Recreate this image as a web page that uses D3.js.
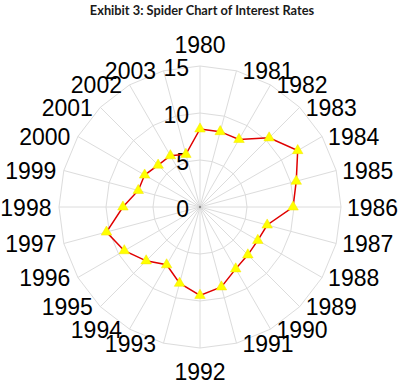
<!DOCTYPE html>
<html>
<head>
<meta charset="utf-8">
<script src="https://cdn.jsdelivr.net/npm/d3@7"></script>
<style>
    body { margin: 0; background: #ffffff; }
    #Spider text { font-family: "Liberation Sans", Arial, sans-serif; fill: #000000; }
    #Spider .title { font-family: Lato, "Open Sans", sans-serif; font-weight: bold; fill: #1a1a1a; }
</style>
</head>
<body>
<div id="Spider"></div>
<script>
// Categories (years) going clockwise from the top
var years = ["1980", "1981", "1982", "1983", "1984", "1985", "1986", "1987",
    "1988", "1989", "1990", "1991", "1992", "1993", "1994", "1995",
    "1996", "1997", "1998", "1999", "2000", "2001", "2002", "2003"];

// Interest rate for each year
var rates = [8.3, 8.3, 8.3, 10.4, 12.0, 10.6, 9.9, 7.4,
    7.1, 7.2, 7.6, 8.8, 9.4, 8.4, 7.1, 8.1,
    9.3, 10.3, 8.2, 6.8, 6.8, 6.3, 6.3, 5.8];

// Radial ticks
var radialTicks = [0, 5, 10, 15];

var width = 400,
    height = 385,
    center = {x: 200, y: 207},
    outerRadius = 141;

drawSpider();

/**
 * Draws the spider (radar) chart of interest rates.
 */
function drawSpider() {
    document.getElementById("Spider").innerHTML = "";

    var svg = d3.select("#Spider")
        .append("svg")
        .attr("width", width)
        .attr("height", height);

    // Title
    svg.append("text")
        .attr("class", "title")
        .attr("x", 202)
        .attr("y", 15)
        .attr("text-anchor", "middle")
        .style("font-size", "12.8px")
        .text("Exhibit 3: Spider Chart of Interest Rates");

    var g = svg.append("g")
        .attr("transform", "translate(" + center.x + "," + center.y + ")");

    // Angle of each year, clockwise from 12 o'clock
    var angle = d3.scalePoint()
        .domain(years)
        .range([0, 2 * Math.PI * (years.length - 1) / years.length]);

    var r = d3.scaleLinear()
        .domain([0, 15])
        .range([0, outerRadius]);

    /**
     * Grid: polygon rings and spokes
     */
    var ring = d3.lineRadial()
        .angle(function (d) { return angle(d); })
        .curve(d3.curveLinearClosed);

    g.selectAll(".ring")
        .data(radialTicks.filter(function (t) { return t > 0; }))
        .enter()
        .append("path")
        .attr("class", "ring")
        .attr("d", function (t) { return ring.radius(r(t))(years); })
        .style("fill", "none")
        .style("stroke", "#dcdcdc")
        .style("stroke-width", 1);

    g.selectAll(".spoke")
        .data(years)
        .enter()
        .append("line")
        .attr("class", "spoke")
        .attr("x1", 0)
        .attr("y1", 0)
        .attr("x2", function (d) { return r(15) * Math.sin(angle(d)); })
        .attr("y2", function (d) { return -r(15) * Math.cos(angle(d)); })
        .style("stroke", "#dcdcdc")
        .style("stroke-width", 1);

    // small dark dot where the spokes meet
    g.append("circle")
        .attr("r", 1.2)
        .style("fill", "#888888");

    /**
     * Radial tick labels, right aligned next to the top spoke
     */
    g.selectAll(".rtick")
        .data(radialTicks)
        .enter()
        .append("text")
        .attr("class", "rtick")
        .attr("x", -11)
        .attr("y", function (t) { return -r(t) + 9.5; })
        .attr("text-anchor", "end")
        .style("font-size", "23px")
        .text(function (t) { return t; });

    /**
     * Year labels around the outer ring
     */
    g.selectAll(".ylabel")
        .data(years)
        .enter()
        .append("text")
        .attr("class", "ylabel")
        .attr("x", function (d) {
            var s = Math.sin(angle(d));
            var x = r(15) * s;
            if (s > 0.01) return x + 6;
            if (s < -0.01) return x - 7.5;
            return x;
        })
        .attr("y", function (d) {
            var c = Math.cos(angle(d));
            var y = -r(15) * c;
            if (c > 0.99) return y - 13; // top label sits above
            if (c < -0.99) return y + 31.5; // bottom label sits below
            return y + 8.5;
        })
        .attr("text-anchor", function (d) {
            var s = Math.sin(angle(d));
            if (s > 0.01) return "start";
            if (s < -0.01) return "end";
            return "middle";
        })
        .style("font-size", "23px")
        .text(function (d) { return d; });

    /**
     * The data line and triangle markers
     */
    var points = years.map(function (d, i) { return {year: d, value: rates[i]}; });

    var line = d3.lineRadial()
        .angle(function (d) { return angle(d.year); })
        .radius(function (d) { return r(d.value); })
        .curve(d3.curveLinearClosed);

    g.append("path")
        .datum(points)
        .attr("d", line)
        .style("fill", "none")
        .style("stroke", "#e00000")
        .style("stroke-width", 1.5);

    g.selectAll(".marker")
        .data(points)
        .enter()
        .append("path")
        .attr("class", "marker")
        .attr("d", d3.symbol().type(d3.symbolTriangle).size(48))
        .attr("transform", function (d) {
            var a = angle(d.year);
            return "translate(" + (r(d.value) * Math.sin(a)) + "," + (-r(d.value) * Math.cos(a)) + ")";
        })
        .style("fill", "#ffff00")
        .style("stroke", "#f2e600")
        .style("stroke-width", 0.5);
}
</script>
</body>
</html>
